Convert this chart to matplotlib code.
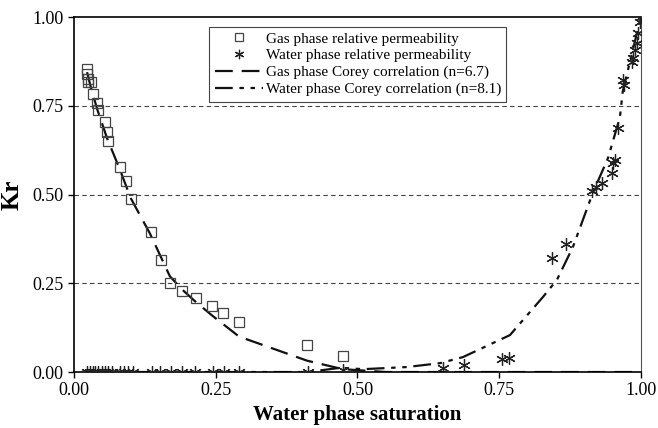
import matplotlib
matplotlib.use("Agg")
import matplotlib.pyplot as plt

# Gas phase relative permeability (squares)
gas_sw = [0.023, 0.023, 0.025, 0.025, 0.030, 0.034, 0.041, 0.043, 0.055, 0.058, 0.060,
          0.081, 0.091, 0.100, 0.135, 0.153, 0.169, 0.191, 0.215, 0.243, 0.263, 0.291,
          0.411, 0.474]
gas_kr = [0.853, 0.840, 0.826, 0.818, 0.817, 0.784, 0.758, 0.737, 0.705, 0.677, 0.651,
          0.577, 0.538, 0.487, 0.394, 0.315, 0.251, 0.228, 0.208, 0.186, 0.166, 0.141,
          0.076, 0.045]

# Water phase relative permeability (asterisks)
wat_sw = [0.023, 0.028, 0.034, 0.037, 0.042, 0.049, 0.055, 0.060, 0.067, 0.081, 0.088,
          0.095, 0.104, 0.138, 0.152, 0.171, 0.190, 0.213, 0.245, 0.265, 0.291, 0.413,
          0.474, 0.651, 0.688, 0.755, 0.767, 0.843, 0.868, 0.914, 0.920, 0.931, 0.949,
          0.951, 0.954, 0.959, 0.968, 0.970, 0.984, 0.986, 0.989, 0.993, 0.995, 0.998, 1.000]
wat_kr = [0.0, 0.0, 0.0, 0.0, 0.0, 0.0, 0.0, 0.0, 0.0, 0.0, 0.0,
          0.0, 0.0, 0.0, 0.0, 0.0, 0.0, 0.0, 0.0, 0.0, 0.0, 0.0,
          0.005, 0.010, 0.020, 0.037, 0.040, 0.321, 0.361, 0.510, 0.520, 0.532, 0.560,
          0.589, 0.597, 0.687, 0.822, 0.808, 0.873, 0.884, 0.907, 0.927, 0.955, 0.986, 1.000]

# Gas phase Corey correlation (n=6.7)
gcor_sw = [0.023, 0.030, 0.041, 0.058, 0.081, 0.100, 0.134, 0.153, 0.169, 0.189, 0.213,
           0.243, 0.263, 0.291, 0.411, 0.474, 0.550, 1.000]
gcor_kr = [0.845, 0.800, 0.740, 0.660, 0.570, 0.490, 0.390, 0.325, 0.270, 0.235, 0.200,
           0.160, 0.135, 0.100, 0.032, 0.008, 0.000, 0.000]

# Water phase Corey correlation (n=8.1)
wcor_sw = [0.023, 0.413, 0.470, 0.510, 0.587, 0.646, 0.686, 0.769, 0.827, 0.852, 0.880,
           0.915, 0.942, 0.963, 0.968, 0.980, 1.000]
wcor_kr = [0.000, 0.000, 0.012, 0.008, 0.014, 0.025, 0.042, 0.104, 0.211, 0.260, 0.352,
           0.504, 0.603, 0.718, 0.790, 0.870, 1.000]

xticks = [0.00, 0.25, 0.50, 0.75, 1.00]
yticks = [0.00, 0.25, 0.50, 0.75, 1.00]

plt.rcParams['font.family'] = ['Liberation Serif', 'DejaVu Serif']

fig = plt.figure(figsize=(6.58, 4.28), dpi=100)
ax = fig.add_axes([0.1125, 0.1308, 0.8615, 0.8292])

for y in [0.25, 0.5, 0.75]:
    ax.axhline(y, color='#444444', lw=0.8, ls=(0, (4, 3)), zorder=1)

ax.plot(gas_sw, gas_kr, ls='none', marker='s', ms=7, mfc='none', mec='#444444', mew=0.9,
        label='Gas phase relative permeability', zorder=3)
ax.plot(wat_sw, wat_kr, ls='none', marker=(6, 2, 0), ms=9, mec='#222222', mew=0.9,
        label='Water phase relative permeability', zorder=3)
ax.plot(gcor_sw, gcor_kr, color='#111111', lw=1.6, dashes=(8, 4),
        label='Gas phase Corey correlation (n=6.7)', zorder=2)
ax.plot(wcor_sw, wcor_kr, color='#111111', lw=1.6, dashes=(8, 3, 2, 3, 2, 3),
        label='Water phase Corey correlation (n=8.1)', zorder=2)

ax.set_xlim(0, 1)
ax.set_ylim(0, 1)
ax.set_xticks(xticks)
ax.set_yticks(yticks)
ax.set_xticklabels(['%.2f' % v for v in xticks])
ax.set_yticklabels(['%.2f' % v for v in yticks])
ax.tick_params(direction='out', length=4, labelsize=13, width=1)
ax.set_xlabel('Water phase saturation', fontsize=15, fontweight='bold', labelpad=4)
ax.set_ylabel('Kr', fontsize=18, fontweight='bold', labelpad=6)

for s in ['left', 'bottom', 'top']:
    ax.spines[s].set_color('black')
    ax.spines[s].set_linewidth(1.2)
ax.spines['right'].set_color('#555555')

leg = ax.legend(loc='upper left', bbox_to_anchor=(0.225, 0.995), fontsize=11,
                frameon=True, fancybox=False, edgecolor='#444444', framealpha=1,
                handlelength=3.2, handletextpad=0.15, markerscale=0.75,
                borderpad=0.35, labelspacing=0.2)
leg.get_frame().set_linewidth(0.8)

fig.savefig('out.png', dpi=100)
